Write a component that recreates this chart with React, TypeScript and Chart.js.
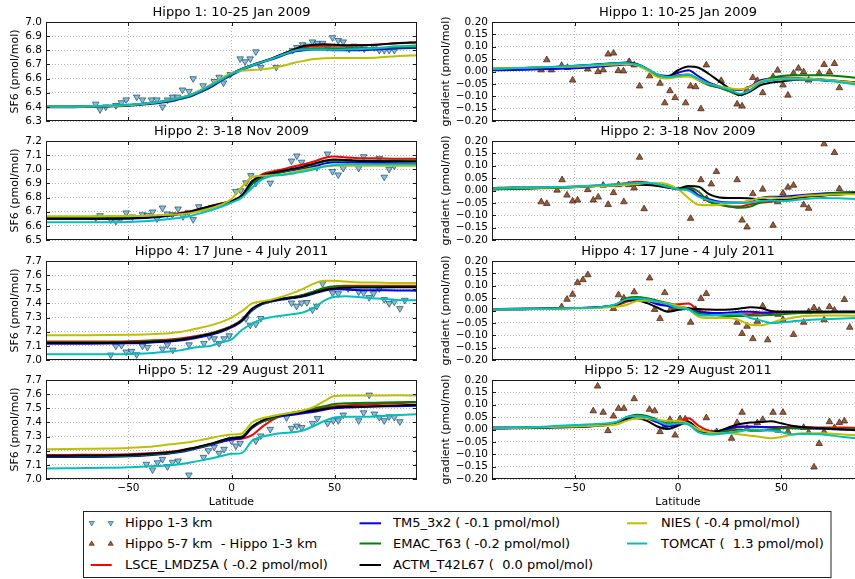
import { useEffect, useRef } from 'react';
import { Chart, registerables } from 'chart.js';

Chart.register(...registerables);
Chart.defaults.font.family = "'DejaVu Sans', sans-serif";
Chart.defaults.color = '#000';

// latitude grid the model curves are read on
const MODEL_LAT = [-90, -80, -70, -60, -50, -40, -30, -25, -20, -15, -10, -5, 0, 5, 10, 15, 20, 25, 30, 35, 40, 45, 50, 55, 60, 70, 80, 90];

// ---- Hippo 1 ----
const H1_LOW_LAT = [-65.9, -63.8, -61.0, -56.1, -53.4, -51.1, -46.0, -43.2, -38.8, -36.2, -33.5, -31.1, -28.6, -26.2, -23.8, -20.6, -18.6, -13.8, -8.4, -6.0, -3.9, -0.6, 4.2, 6.6, 9.1, 11.8, 14.2, 21.7, 29.6, 31.7, 34.5, 36.6, 39.3, 41.7, 44.2, 46.6, 49.0, 51.8, 54.2, 57.1, 59.5, 62.0, 64.4, 69.3, 71.7, 74.1, 76.5, 79.0];
const H1_LOW_SF6 = [6.42, 6.38, 6.40, 6.41, 6.43, 6.45, 6.47, 6.45, 6.45, 6.45, 6.40, 6.45, 6.47, 6.47, 6.52, 6.51, 6.60, 6.55, 6.58, 6.61, 6.57, 6.63, 6.74, 6.72, 6.74, 6.79, 6.68, 6.68, 6.80, 6.82, 6.84, 6.83, 6.86, 6.85, 6.85, 6.82, 6.89, 6.87, 6.86, 6.81, 6.83, 6.82, 6.81, 6.82, 6.80, 6.80, 6.80, 6.80];
const H1_DIFF_LAT = [-66.2, -63.5, -61.3, -56.3, -53.5, -51.0, -43.7, -38.7, -36.2, -33.8, -31.2, -28.9, -26.4, -23.6, -21.2, -18.6, -13.7, -8.7, -6.4, -3.9, -1.4, 3.7, 6.1, 8.5, 11.1, 13.7, 20.9, 28.6, 31.0, 33.4, 36.2, 38.4, 41.0, 46.0, 48.2, 50.8, 53.2, 55.9, 58.3, 60.8, 63.2, 68.3, 70.7, 73.3, 75.7, 78.1];
const H1_DIFF_VAL = [0.006, 0.047, 0.006, 0.024, 0.016, -0.035, 0.010, -0.001, 0.006, 0.070, 0.074, 0.003, 0.002, 0.040, 0.026, -0.059, -0.018, -0.048, -0.127, -0.078, -0.106, -0.127, -0.059, -0.062, -0.151, 0.026, -0.037, -0.132, -0.140, -0.075, -0.025, -0.037, -0.086, -0.021, 0.005, -0.055, -0.096, -0.007, 0.013, -0.002, -0.035, -0.007, 0.028, -0.002, 0.032, -0.066];
const H1_LSCE = [6.400, 6.400, 6.402, 6.405, 6.412, 6.425, 6.445, 6.462, 6.482, 6.515, 6.553, 6.595, 6.635, 6.668, 6.695, 6.720, 6.745, 6.775, 6.803, 6.822, 6.830, 6.832, 6.832, 6.832, 6.835, 6.840, 6.850, 6.855];
const H1_TM5 = [6.398, 6.398, 6.400, 6.403, 6.408, 6.420, 6.438, 6.455, 6.472, 6.505, 6.540, 6.585, 6.625, 6.660, 6.690, 6.715, 6.738, 6.765, 6.790, 6.800, 6.805, 6.805, 6.800, 6.800, 6.800, 6.805, 6.812, 6.817];
const H1_EMAC = [6.402, 6.402, 6.404, 6.407, 6.413, 6.425, 6.443, 6.460, 6.478, 6.510, 6.548, 6.590, 6.630, 6.665, 6.693, 6.718, 6.742, 6.770, 6.795, 6.810, 6.815, 6.815, 6.815, 6.815, 6.815, 6.815, 6.820, 6.822];
const H1_ACTM = [6.400, 6.400, 6.402, 6.405, 6.412, 6.425, 6.445, 6.462, 6.482, 6.515, 6.553, 6.595, 6.635, 6.668, 6.695, 6.720, 6.745, 6.775, 6.805, 6.830, 6.840, 6.842, 6.840, 6.835, 6.835, 6.840, 6.850, 6.857];
const H1_NIES = [6.400, 6.400, 6.402, 6.405, 6.412, 6.425, 6.447, 6.465, 6.485, 6.518, 6.558, 6.600, 6.640, 6.655, 6.660, 6.665, 6.675, 6.690, 6.710, 6.725, 6.738, 6.744, 6.746, 6.746, 6.745, 6.748, 6.758, 6.765];
const H1_TOMCAT = [6.403, 6.403, 6.405, 6.408, 6.415, 6.428, 6.447, 6.463, 6.482, 6.515, 6.552, 6.593, 6.633, 6.666, 6.694, 6.718, 6.742, 6.770, 6.795, 6.805, 6.805, 6.805, 6.803, 6.805, 6.808, 6.815, 6.828, 6.835];
const H1_GRAD_LSCE = [0.008, 0.010, 0.013, 0.016, 0.020, 0.026, 0.033, 0.034, 0.027, 0.008, -0.015, -0.022, -0.015, -0.012, -0.035, -0.055, -0.065, -0.080, -0.095, -0.078, -0.045, -0.035, -0.030, -0.030, -0.032, -0.035, -0.042, -0.050];
const H1_GRAD_TM5 = [0.005, 0.006, 0.008, 0.010, 0.013, 0.018, 0.025, 0.028, 0.025, 0.010, -0.012, -0.018, -0.005, 0.005, -0.020, -0.045, -0.060, -0.070, -0.075, -0.060, -0.035, -0.028, -0.025, -0.025, -0.028, -0.032, -0.040, -0.045];
const H1_GRAD_EMAC = [0.012, 0.013, 0.015, 0.018, 0.022, 0.027, 0.032, 0.033, 0.028, 0.010, -0.015, -0.022, -0.018, -0.015, -0.035, -0.055, -0.065, -0.080, -0.095, -0.075, -0.045, -0.025, -0.018, -0.015, -0.015, -0.015, -0.020, -0.030];
const H1_GRAD_ACTM = [0.010, 0.012, 0.015, 0.018, 0.022, 0.028, 0.034, 0.036, 0.030, 0.010, -0.018, -0.020, 0.005, 0.020, 0.015, -0.010, -0.040, -0.070, -0.095, -0.080, -0.055, -0.045, -0.040, -0.035, -0.032, -0.035, -0.040, -0.045];
const H1_GRAD_NIES = [0.012, 0.014, 0.016, 0.018, 0.020, 0.024, 0.028, 0.030, 0.025, 0.005, -0.022, -0.028, -0.022, -0.020, -0.035, -0.050, -0.060, -0.068, -0.072, -0.062, -0.040, -0.032, -0.028, -0.027, -0.028, -0.032, -0.040, -0.048];
const H1_GRAD_TOMCAT = [0.010, 0.013, 0.016, 0.019, 0.023, 0.028, 0.033, 0.034, 0.028, 0.012, -0.012, -0.022, -0.018, -0.012, -0.030, -0.050, -0.062, -0.075, -0.090, -0.075, -0.045, -0.035, -0.032, -0.032, -0.033, -0.035, -0.045, -0.058];

// ---- Hippo 2 ----
const H2_LOW_LAT = [-65.9, -63.8, -58.6, -56.1, -53.7, -51.1, -48.1, -43.2, -40.8, -38.3, -36.2, -33.5, -31.1, -28.6, -25.9, -23.5, -20.9, -18.6, -15.9, 2.1, 4.5, 7.0, 9.4, 11.8, 18.8, 29.1, 31.7, 34.0, 36.6, 41.4, 46.6, 49.0, 51.8, 54.2, 56.6, 61.7, 64.1, 71.7, 74.1, 76.5, 79.0];
const H2_LOW_SF6 = [6.657, 6.673, 6.643, 6.633, 6.650, 6.692, 6.664, 6.680, 6.675, 6.699, 6.650, 6.727, 6.685, 6.680, 6.720, 6.666, 6.696, 6.645, 6.736, 6.844, 6.849, 6.905, 6.956, 6.903, 6.903, 7.059, 7.095, 7.051, 7.020, 7.013, 7.109, 6.985, 6.961, 7.008, 7.059, 7.008, 7.090, 7.078, 6.945, 7.001, 7.024];
const H2_DIFF_LAT = [-66.2, -63.5, -58.5, -56.1, -53.7, -51.0, -48.6, -43.7, -41.0, -38.6, -36.2, -33.8, -31.2, -28.8, -26.2, -23.8, -21.2, -18.6, -16.4, 6.1, 11.1, 13.8, 16.1, 18.6, 28.6, 31.0, 33.4, 36.2, 41.0, 46.0, 48.2, 50.8, 53.2, 55.9, 60.8, 63.2, 70.7, 75.7, 78.1];
const H2_DIFF_VAL = [-0.046, -0.053, 0.001, 0.043, -0.019, -0.043, -0.039, 0.003, -0.039, -0.027, 0.021, -0.057, -0.009, 0.023, -0.046, 0.023, 0.010, 0.134, -0.074, -0.113, 0.043, -0.033, 0.026, 0.076, 0.043, -0.120, -0.148, -0.013, 0.005, -0.141, -0.046, -0.011, 0.013, 0.021, -0.058, -0.072, 0.188, 0.153, 0.007];
const H2_LSCE = [6.655, 6.655, 6.655, 6.656, 6.657, 6.663, 6.677, 6.690, 6.702, 6.722, 6.740, 6.758, 6.775, 6.815, 6.915, 6.965, 6.985, 7.000, 7.020, 7.035, 7.055, 7.080, 7.090, 7.085, 7.080, 7.078, 7.075, 7.075];
const H2_TM5 = [6.650, 6.650, 6.650, 6.651, 6.652, 6.658, 6.672, 6.683, 6.695, 6.715, 6.735, 6.752, 6.770, 6.805, 6.895, 6.945, 6.965, 6.980, 6.995, 7.005, 7.020, 7.040, 7.050, 7.050, 7.048, 7.045, 7.042, 7.040];
const H2_EMAC = [6.660, 6.660, 6.660, 6.660, 6.662, 6.665, 6.675, 6.685, 6.695, 6.715, 6.735, 6.752, 6.770, 6.805, 6.900, 6.950, 6.968, 6.985, 7.000, 7.015, 7.035, 7.055, 7.062, 7.062, 7.062, 7.062, 7.062, 7.062];
const H2_ACTM = [6.650, 6.650, 6.650, 6.651, 6.652, 6.660, 6.675, 6.688, 6.700, 6.722, 6.740, 6.758, 6.775, 6.815, 6.915, 6.958, 6.975, 6.990, 7.005, 7.020, 7.040, 7.060, 7.070, 7.065, 7.060, 7.058, 7.056, 7.055];
const H2_NIES = [6.668, 6.668, 6.668, 6.669, 6.670, 6.672, 6.678, 6.682, 6.690, 6.705, 6.725, 6.750, 6.790, 6.875, 6.945, 6.955, 6.958, 6.965, 6.980, 6.995, 7.010, 7.020, 7.025, 7.025, 7.025, 7.025, 7.025, 7.025];
const H2_TOMCAT = [6.625, 6.625, 6.625, 6.626, 6.628, 6.635, 6.648, 6.658, 6.670, 6.690, 6.710, 6.735, 6.765, 6.800, 6.870, 6.930, 6.955, 6.960, 6.970, 6.985, 7.000, 7.020, 7.030, 7.035, 7.035, 7.035, 7.035, 7.035];
const H2_GRAD_LSCE = [0.005, 0.008, 0.010, 0.012, 0.015, 0.020, 0.025, 0.030, 0.035, 0.032, 0.022, 0.012, 0.005, 0.010, -0.020, -0.045, -0.055, -0.065, -0.065, -0.055, -0.050, -0.045, -0.040, -0.035, -0.028, -0.020, -0.012, -0.008];
const H2_GRAD_TM5 = [0.005, 0.007, 0.009, 0.011, 0.014, 0.018, 0.022, 0.025, 0.027, 0.028, 0.025, 0.015, 0.005, 0.005, -0.020, -0.035, -0.045, -0.048, -0.048, -0.042, -0.030, -0.025, -0.025, -0.022, -0.018, -0.012, -0.008, -0.005];
const H2_GRAD_EMAC = [0.005, 0.006, 0.008, 0.010, 0.013, 0.018, 0.022, 0.025, 0.028, 0.030, 0.028, 0.018, 0.008, 0.012, -0.005, -0.045, -0.058, -0.065, -0.070, -0.065, -0.048, -0.040, -0.035, -0.030, -0.022, -0.015, -0.008, -0.003];
const H2_GRAD_ACTM = [0.010, 0.012, 0.012, 0.013, 0.015, 0.018, 0.020, 0.022, 0.023, 0.022, 0.018, 0.012, 0.008, 0.018, 0.015, -0.015, -0.028, -0.030, -0.030, -0.032, -0.035, -0.040, -0.038, -0.032, -0.025, -0.020, -0.015, -0.008];
const H2_GRAD_NIES = [0.008, 0.010, 0.011, 0.012, 0.014, 0.017, 0.020, 0.022, 0.025, 0.030, 0.030, 0.025, 0.005, -0.030, -0.058, -0.060, -0.058, -0.052, -0.048, -0.040, -0.030, -0.028, -0.030, -0.028, -0.022, -0.018, -0.015, -0.015];
const H2_GRAD_TOMCAT = [0.008, 0.010, 0.012, 0.014, 0.016, 0.020, 0.025, 0.028, 0.030, 0.030, 0.025, 0.015, 0.005, 0.000, -0.025, -0.040, -0.048, -0.050, -0.050, -0.048, -0.042, -0.040, -0.042, -0.040, -0.035, -0.030, -0.032, -0.035];

// ---- Hippo 4 ----
const H4_LOW_LAT = [-58.6, -56.1, -53.4, -51.1, -48.5, -46.0, -43.2, -40.8, -33.5, -31.1, -28.5, -20.6, -13.4, -10.8, -8.4, -6.0, -3.6, -1.1, 7.0, 9.1, 11.8, 14.2, 29.1, 31.6, 34.0, 36.6, 39.3, 41.4, 44.2, 49.0, 51.8, 56.6, 61.7, 64.1, 66.8, 68.9, 71.7, 74.1, 76.5, 79.0, 81.7, 84.1];
const H4_LOW_SF6 = [7.036, 7.099, 7.104, 7.057, 7.062, 7.038, 7.099, 7.090, 7.078, 7.108, 7.071, 7.108, 7.118, 7.165, 7.151, 7.118, 7.151, 7.172, 7.292, 7.247, 7.254, 7.294, 7.404, 7.381, 7.404, 7.407, 7.355, 7.381, 7.540, 7.475, 7.470, 7.505, 7.482, 7.475, 7.442, 7.470, 7.505, 7.428, 7.400, 7.411, 7.364, 7.423];
const H4_DIFF_LAT = [-56.3, -53.7, -51.0, -48.6, -46.0, -43.6, -31.2, -28.8, -26.2, -21.2, -13.7, -11.3, -8.7, -6.4, -3.7, -1.3, 6.1, 8.5, 11.1, 13.7, 28.6, 31.0, 33.4, 36.2, 38.4, 41.0, 43.4, 48.4, 50.8, 55.9, 60.8, 63.2, 65.8, 68.3, 70.7, 73.3, 75.7, 80.5, 83.1];
const H4_DIFF_VAL = [0.015, 0.045, 0.065, 0.113, 0.124, 0.144, 0.008, 0.063, 0.050, 0.075, 0.131, 0.004, -0.033, 0.072, 0.004, 0.011, -0.048, 0.004, 0.048, 0.068, -0.048, -0.093, -0.064, -0.114, -0.044, 0.018, -0.119, -0.016, -0.037, -0.097, -0.048, -0.005, 0.011, 0.000, -0.038, 0.015, 0.001, 0.044, -0.068];
const H4_LSCE = [7.130, 7.130, 7.130, 7.131, 7.133, 7.138, 7.145, 7.152, 7.162, 7.175, 7.190, 7.212, 7.240, 7.285, 7.362, 7.400, 7.420, 7.435, 7.445, 7.460, 7.480, 7.505, 7.520, 7.525, 7.525, 7.525, 7.525, 7.525];
const H4_TM5 = [7.115, 7.115, 7.115, 7.116, 7.118, 7.122, 7.130, 7.137, 7.148, 7.162, 7.178, 7.200, 7.230, 7.275, 7.350, 7.395, 7.415, 7.428, 7.438, 7.450, 7.470, 7.490, 7.500, 7.498, 7.495, 7.493, 7.492, 7.490];
const H4_EMAC = [7.125, 7.125, 7.125, 7.126, 7.128, 7.133, 7.140, 7.148, 7.158, 7.172, 7.188, 7.210, 7.238, 7.282, 7.358, 7.400, 7.420, 7.435, 7.445, 7.462, 7.485, 7.510, 7.520, 7.520, 7.520, 7.520, 7.520, 7.520];
const H4_ACTM = [7.120, 7.120, 7.120, 7.121, 7.123, 7.128, 7.136, 7.144, 7.155, 7.170, 7.186, 7.208, 7.236, 7.280, 7.362, 7.402, 7.420, 7.433, 7.442, 7.455, 7.475, 7.495, 7.505, 7.510, 7.512, 7.513, 7.514, 7.515];
const H4_NIES = [7.175, 7.175, 7.175, 7.176, 7.178, 7.182, 7.190, 7.198, 7.212, 7.228, 7.245, 7.268, 7.300, 7.345, 7.400, 7.415, 7.430, 7.450, 7.475, 7.505, 7.540, 7.560, 7.560, 7.555, 7.550, 7.548, 7.545, 7.545];
const H4_TOMCAT = [7.040, 7.040, 7.040, 7.041, 7.043, 7.048, 7.060, 7.068, 7.083, 7.093, 7.100, 7.125, 7.146, 7.212, 7.258, 7.290, 7.305, 7.315, 7.325, 7.338, 7.370, 7.420, 7.447, 7.450, 7.448, 7.435, 7.425, 7.422];
const H4_GRAD_LSCE = [0.003, 0.005, 0.006, 0.008, 0.010, 0.012, 0.020, 0.035, 0.045, 0.040, 0.030, 0.022, 0.025, 0.028, 0.000, -0.008, -0.012, -0.015, -0.015, -0.015, -0.012, -0.010, -0.008, -0.008, -0.008, -0.008, -0.005, -0.005];
const H4_GRAD_TM5 = [0.004, 0.005, 0.006, 0.008, 0.010, 0.012, 0.022, 0.042, 0.048, 0.040, 0.025, 0.018, 0.012, 0.010, -0.005, -0.010, -0.010, -0.008, -0.005, -0.005, -0.008, -0.008, -0.005, -0.005, -0.005, -0.005, -0.005, -0.005];
const H4_GRAD_EMAC = [0.004, 0.005, 0.006, 0.008, 0.010, 0.012, 0.025, 0.050, 0.055, 0.050, 0.040, 0.030, 0.018, 0.008, -0.012, -0.018, -0.020, -0.022, -0.022, -0.020, -0.020, -0.018, -0.015, -0.012, -0.010, -0.008, -0.008, -0.008];
const H4_GRAD_ACTM = [0.005, 0.007, 0.008, 0.009, 0.010, 0.012, 0.022, 0.040, 0.040, 0.030, 0.012, -0.005, 0.002, 0.008, 0.006, 0.004, 0.003, 0.004, 0.008, 0.013, 0.010, -0.002, -0.005, -0.005, -0.005, -0.005, -0.005, -0.005];
const H4_GRAD_NIES = [0.003, 0.005, 0.006, 0.007, 0.008, 0.010, 0.015, 0.022, 0.038, 0.040, 0.035, 0.028, 0.018, 0.005, -0.025, -0.030, -0.030, -0.030, -0.040, -0.058, -0.060, -0.050, -0.037, -0.030, -0.023, -0.020, -0.020, -0.022];
const H4_GRAD_TOMCAT = [0.005, 0.006, 0.007, 0.008, 0.010, 0.012, 0.025, 0.045, 0.048, 0.045, 0.035, 0.025, 0.010, 0.005, -0.018, -0.020, -0.018, -0.015, -0.015, -0.030, -0.040, -0.050, -0.048, -0.044, -0.040, -0.035, -0.032, -0.030];

// ---- Hippo 5 ----
const H5_LOW_LAT = [-41.3, -38.3, -35.9, -33.5, -31.1, -28.6, -25.9, -20.7, -13.6, -11.2, -8.4, -6.0, -3.6, 0.0, 2.1, 4.2, 11.8, 14.2, 18.8, 26.7, 29.1, 31.7, 34.1, 39.3, 41.7, 46.6, 49.4, 51.8, 54.2, 61.7, 64.1, 66.8, 69.3, 71.7, 74.1, 76.5, 79.0, 81.7];
const H5_LOW_SF6 = [7.105, 7.065, 7.116, 7.140, 7.088, 7.119, 7.128, 7.029, 7.154, 7.201, 7.225, 7.182, 7.211, 7.269, 7.234, 7.253, 7.269, 7.305, 7.352, 7.434, 7.359, 7.375, 7.364, 7.394, 7.429, 7.394, 7.413, 7.413, 7.453, 7.413, 7.469, 7.594, 7.460, 7.436, 7.413, 7.441, 7.436, 7.406];
const H5_DIFF_LAT = [-41.0, -38.9, -36.2, -33.9, -31.2, -28.8, -26.2, -21.2, -13.8, -11.3, -8.7, -6.4, -3.9, -1.4, 1.0, 3.5, 13.7, 18.7, 25.9, 28.6, 31.0, 33.4, 38.4, 41.0, 46.0, 48.4, 50.8, 53.2, 60.8, 63.2, 65.8, 68.3, 70.7, 73.3, 75.7, 78.1, 80.5];
const H5_DIFF_VAL = [0.075, 0.175, 0.069, -0.005, 0.054, 0.085, 0.085, 0.124, 0.081, 0.075, -0.009, 0.013, 0.040, -0.023, 0.043, 0.042, 0.047, -0.009, -0.036, 0.028, 0.069, 0.004, 0.027, 0.040, 0.069, -0.003, 0.069, -0.009, 0.008, -0.012, -0.152, -0.057, -0.009, 0.031, 0.007, 0.028, 0.034];
const H5_LSCE = [7.170, 7.170, 7.171, 7.172, 7.175, 7.182, 7.193, 7.202, 7.215, 7.230, 7.248, 7.265, 7.280, 7.285, 7.310, 7.370, 7.420, 7.450, 7.465, 7.480, 7.490, 7.505, 7.515, 7.520, 7.525, 7.530, 7.535, 7.545];
const H5_TM5 = [7.155, 7.155, 7.156, 7.157, 7.160, 7.168, 7.180, 7.190, 7.205, 7.222, 7.240, 7.262, 7.280, 7.290, 7.360, 7.405, 7.430, 7.445, 7.455, 7.465, 7.475, 7.490, 7.500, 7.505, 7.508, 7.512, 7.515, 7.518];
const H5_EMAC = [7.160, 7.160, 7.161, 7.162, 7.165, 7.173, 7.186, 7.196, 7.210, 7.228, 7.246, 7.270, 7.292, 7.300, 7.370, 7.405, 7.430, 7.455, 7.470, 7.485, 7.500, 7.515, 7.530, 7.535, 7.538, 7.540, 7.542, 7.545];
const H5_ACTM = [7.165, 7.165, 7.166, 7.167, 7.170, 7.178, 7.190, 7.200, 7.215, 7.232, 7.250, 7.272, 7.290, 7.295, 7.370, 7.415, 7.440, 7.455, 7.465, 7.475, 7.485, 7.495, 7.505, 7.510, 7.512, 7.515, 7.520, 7.525];
const H5_NIES = [7.210, 7.212, 7.214, 7.216, 7.220, 7.228, 7.245, 7.252, 7.262, 7.275, 7.290, 7.305, 7.314, 7.322, 7.400, 7.430, 7.445, 7.460, 7.470, 7.485, 7.510, 7.550, 7.587, 7.590, 7.590, 7.590, 7.592, 7.590];
const H5_TOMCAT = [7.075, 7.076, 7.077, 7.079, 7.083, 7.090, 7.098, 7.105, 7.117, 7.130, 7.145, 7.162, 7.178, 7.183, 7.270, 7.300, 7.315, 7.325, 7.330, 7.345, 7.375, 7.410, 7.435, 7.440, 7.440, 7.442, 7.452, 7.457];
const H5_GRAD_LSCE = [0.005, 0.006, 0.007, 0.009, 0.011, 0.015, 0.025, 0.045, 0.055, 0.045, 0.030, 0.020, 0.030, 0.045, 0.015, -0.005, -0.008, 0.000, 0.010, 0.010, 0.010, 0.010, 0.010, 0.010, 0.010, 0.008, 0.008, 0.005];
const H5_GRAD_TM5 = [0.004, 0.005, 0.006, 0.008, 0.010, 0.014, 0.025, 0.045, 0.055, 0.048, 0.030, 0.012, 0.020, 0.030, -0.005, -0.010, -0.008, 0.005, 0.012, 0.012, 0.010, 0.008, 0.008, 0.006, 0.005, 0.003, 0.000, 0.000];
const H5_GRAD_EMAC = [0.005, 0.006, 0.007, 0.009, 0.011, 0.015, 0.028, 0.050, 0.060, 0.055, 0.040, 0.025, 0.025, 0.025, -0.010, -0.012, -0.010, -0.005, 0.000, -0.005, -0.005, 0.000, 0.005, 0.005, 0.005, 0.005, 0.002, 0.000];
const H5_GRAD_ACTM = [0.008, 0.008, 0.009, 0.010, 0.012, 0.015, 0.025, 0.042, 0.045, 0.035, 0.012, 0.002, 0.015, 0.030, 0.000, -0.010, -0.005, 0.010, 0.022, 0.028, 0.030, 0.033, 0.025, 0.015, 0.010, 0.005, 0.000, -0.005];
const H5_GRAD_NIES = [0.005, 0.006, 0.008, 0.010, 0.012, 0.015, 0.020, 0.035, 0.045, 0.045, 0.038, 0.035, 0.035, 0.025, 0.000, -0.010, -0.015, -0.015, -0.020, -0.025, -0.030, -0.035, -0.030, -0.020, -0.015, -0.015, -0.020, -0.025];
const H5_GRAD_TOMCAT = [0.006, 0.008, 0.010, 0.014, 0.018, 0.022, 0.030, 0.050, 0.055, 0.050, 0.035, 0.020, 0.025, 0.020, -0.012, -0.020, -0.018, -0.012, -0.008, 0.000, -0.002, -0.005, -0.010, -0.020, -0.018, -0.020, -0.030, -0.038];

// model order: LSCE, TM5, EMAC, ACTM, NIES, TOMCAT
const MODEL_COLORS = ['#ff0000', '#0000ff', '#008000', '#000000', '#bfbf00', '#00bfbf'];
const MODEL_LABELS = [
  'LSCE_LMDZ5A ( -0.2 pmol/mol)',
  'TM5_3x2 ( -0.1 pmol/mol)',
  'EMAC_T63 ( -0.2 pmol/mol)',
  'ACTM_T42L67 (  0.0 pmol/mol)',
  'NIES ( -0.4 pmol/mol)',
  'TOMCAT (  1.3 pmol/mol)',
];
const LOW_FILL = '#80c2e0';
const LOW_EDGE = '#24445e';
const DIFF_FILL = '#9e5a38';
const DIFF_EDGE = '#3a1c0c';

const PLOT_TOPS = [22, 141, 261, 380];
const PLOT_H = 99;
const TITLE_H = 17;

interface PanelSpec {
  title: string;
  row: number;
  col: number;
  yMin: number;
  yMax: number;
  obsLat: number[];
  obsVal: number[];
  models: number[][];
}

const PANELS: PanelSpec[] = [
  { title: 'Hippo 1: 10-25 Jan 2009', row: 0, col: 0, yMin: 6.3, yMax: 7.0, obsLat: H1_LOW_LAT, obsVal: H1_LOW_SF6, models: [H1_LSCE, H1_TM5, H1_EMAC, H1_ACTM, H1_NIES, H1_TOMCAT] },
  { title: 'Hippo 1: 10-25 Jan 2009', row: 0, col: 1, yMin: -0.2, yMax: 0.2, obsLat: H1_DIFF_LAT, obsVal: H1_DIFF_VAL, models: [H1_GRAD_LSCE, H1_GRAD_TM5, H1_GRAD_EMAC, H1_GRAD_ACTM, H1_GRAD_NIES, H1_GRAD_TOMCAT] },
  { title: 'Hippo 2: 3-18 Nov 2009', row: 1, col: 0, yMin: 6.5, yMax: 7.2, obsLat: H2_LOW_LAT, obsVal: H2_LOW_SF6, models: [H2_LSCE, H2_TM5, H2_EMAC, H2_ACTM, H2_NIES, H2_TOMCAT] },
  { title: 'Hippo 2: 3-18 Nov 2009', row: 1, col: 1, yMin: -0.2, yMax: 0.2, obsLat: H2_DIFF_LAT, obsVal: H2_DIFF_VAL, models: [H2_GRAD_LSCE, H2_GRAD_TM5, H2_GRAD_EMAC, H2_GRAD_ACTM, H2_GRAD_NIES, H2_GRAD_TOMCAT] },
  { title: 'Hippo 4: 17 June - 4 July 2011', row: 2, col: 0, yMin: 7.0, yMax: 7.7, obsLat: H4_LOW_LAT, obsVal: H4_LOW_SF6, models: [H4_LSCE, H4_TM5, H4_EMAC, H4_ACTM, H4_NIES, H4_TOMCAT] },
  { title: 'Hippo 4: 17 June - 4 July 2011', row: 2, col: 1, yMin: -0.2, yMax: 0.2, obsLat: H4_DIFF_LAT, obsVal: H4_DIFF_VAL, models: [H4_GRAD_LSCE, H4_GRAD_TM5, H4_GRAD_EMAC, H4_GRAD_ACTM, H4_GRAD_NIES, H4_GRAD_TOMCAT] },
  { title: 'Hippo 5: 12 -29 August 2011', row: 3, col: 0, yMin: 7.0, yMax: 7.7, obsLat: H5_LOW_LAT, obsVal: H5_LOW_SF6, models: [H5_LSCE, H5_TM5, H5_EMAC, H5_ACTM, H5_NIES, H5_TOMCAT] },
  { title: 'Hippo 5: 12 -29 August 2011', row: 3, col: 1, yMin: -0.2, yMax: 0.2, obsLat: H5_DIFF_LAT, obsVal: H5_DIFF_VAL, models: [H5_GRAD_LSCE, H5_GRAD_TM5, H5_GRAD_EMAC, H5_GRAD_ACTM, H5_GRAD_NIES, H5_GRAD_TOMCAT] },
];

const minus = (s: string) => s.replace('-', '\u2212');

// matplotlib-style box with inward ticks on all four sides
const framePlugin = {
  id: 'frame',
  afterDatasetsDraw(chart: any) {
    const { ctx, chartArea } = chart;
    const { left, top, right, bottom } = chartArea;
    const xs = chart.scales.x;
    const ys = chart.scales.y;
    ctx.save();
    ctx.strokeStyle = '#1a1a1a';
    ctx.lineWidth = 1;
    ctx.beginPath();
    for (const t of xs.ticks) {
      const px = Math.round(xs.getPixelForValue(t.value)) + 0.5;
      ctx.moveTo(px, top);
      ctx.lineTo(px, top + 4);
      ctx.moveTo(px, bottom);
      ctx.lineTo(px, bottom - 4);
    }
    for (const t of ys.ticks) {
      const py = Math.round(ys.getPixelForValue(t.value)) + 0.5;
      ctx.moveTo(left, py);
      ctx.lineTo(left + 4, py);
      ctx.moveTo(right, py);
      ctx.lineTo(right - 4, py);
    }
    ctx.stroke();
    ctx.strokeRect(Math.round(left) + 0.5, Math.round(top) + 0.5, Math.round(right - left) - 1, Math.round(bottom - top) - 1);
    ctx.restore();
  },
};

function Panel({ spec }: { spec: PanelSpec }) {
  const canvasRef = useRef<HTMLCanvasElement>(null);
  const grad = spec.col === 1;
  const isBottom = spec.row === 3;
  const yAxisW = grad ? 62 : 46;
  const canvasLeft = grad ? 430 : 0;
  const canvasWidth = grad ? 440 : 430;
  const padRight = grad ? 6 : 13;
  const xAxisH = isBottom ? 30 : 0;
  const padBottom = isBottom ? 0 : 8;
  const height = TITLE_H + PLOT_H + xAxisH + padBottom;
  const top = PLOT_TOPS[spec.row] - TITLE_H;

  useEffect(() => {
    if (!canvasRef.current) return;

    const obs = {
      label: grad ? 'Hippo 5-7 km  - Hippo 1-3 km' : 'Hippo 1-3 km',
      data: spec.obsLat.map((x, i) => ({ x, y: spec.obsVal[i] })),
      showLine: false,
      pointStyle: 'triangle',
      rotation: grad ? 0 : 180,
      pointRadius: 3.8,
      backgroundColor: grad ? DIFF_FILL : LOW_FILL,
      borderColor: grad ? DIFF_EDGE : LOW_EDGE,
      borderWidth: 0.7,
      order: 10,
    };
    const lines = spec.models.map((vals, i) => ({
      label: MODEL_LABELS[i],
      data: MODEL_LAT.map((x, j) => ({ x, y: vals[j] })),
      showLine: true,
      borderColor: MODEL_COLORS[i],
      backgroundColor: MODEL_COLORS[i],
      borderWidth: 2,
      pointRadius: 0,
      cubicInterpolationMode: 'monotone',
      order: 9 - i,
    }));

    const chart = new Chart(canvasRef.current, {
      type: 'scatter',
      data: { datasets: [obs, ...lines] as any },
      plugins: [framePlugin],
      options: {
        animation: false,
        responsive: true,
        maintainAspectRatio: false,
        events: [],
        layout: { padding: { left: 0, right: padRight, top: 0, bottom: padBottom } },
        plugins: {
          legend: { display: false },
          tooltip: { enabled: false },
          title: {
            display: true,
            text: spec.title,
            fullSize: false,
            color: '#000',
            font: { size: 13, weight: 'normal', lineHeight: '16px' },
            padding: { top: 0, bottom: 1 },
          },
        },
        scales: {
          x: {
            type: 'linear',
            min: -90,
            max: 90,
            ticks: {
              stepSize: 50,
              includeBounds: false,
              display: isBottom,
              padding: 3,
              font: { size: 10.5 },
              callback: (v: any) => minus(String(v)),
            },
            grid: { color: '#b4b4b4', lineWidth: 1, drawTicks: false },
            border: { display: false, dash: [1, 2] },
            title: { display: isBottom, text: 'Latitude', font: { size: 11 }, padding: 0 },
            afterFit: (s: any) => {
              s.height = xAxisH;
              s.paddingLeft = 0;
              s.paddingRight = 0;
            },
          },
          y: {
            type: 'linear',
            min: spec.yMin,
            max: spec.yMax,
            ticks: {
              stepSize: grad ? 0.05 : 0.1,
              autoSkip: false,
              padding: 4,
              font: { size: 10.5 },
              callback: (v: any) => {
                const n = Math.abs(v) < 1e-9 ? 0 : Number(v);
                return minus(n.toFixed(grad ? 2 : 1));
              },
            },
            grid: { color: '#b4b4b4', lineWidth: 1, drawTicks: false },
            border: { display: false, dash: [1, 2] },
            title: {
              display: true,
              text: grad ? 'gradient (pmol/mol)' : 'SF6 (pmol/mol)',
              font: { size: 11 },
              padding: { top: grad ? 9.1 : 8.4, bottom: 0 },
            },
            afterFit: (s: any) => {
              s.width = yAxisW;
              s.paddingTop = 0;
              s.paddingBottom = 0;
            },
          },
        },
      } as any,
    });

    return () => {
      chart.destroy();
    };
  }, [spec]);

  return (
    <div style={{ position: 'absolute', left: canvasLeft, top, width: canvasWidth, height }}>
      <canvas ref={canvasRef} />
    </div>
  );
}

const LEGEND_ROWS = [523.3, 543.5, 565];

function Legend() {
  const textStyle = (x: number, y: number): React.CSSProperties => ({
    position: 'absolute',
    left: x,
    top: y - 8,
    height: 16,
    lineHeight: '16px',
    fontSize: 13,
    whiteSpace: 'pre',
    color: '#000',
  });
  const down = (cx: number, cy: number) => `${cx - 2.6},${cy - 1.8} ${cx + 2.6},${cy - 1.8} ${cx},${cy + 2.6}`;
  const up = (cx: number, cy: number) => `${cx - 2.6},${cy + 1.8} ${cx + 2.6},${cy + 1.8} ${cx},${cy - 2.6}`;
  const lineRows: { x1: number; x2: number; row: number; model: number }[] = [
    { x1: 90.7, x2: 111.7, row: 2, model: 0 },
    { x1: 359.5, x2: 381, row: 0, model: 1 },
    { x1: 359.5, x2: 381, row: 1, model: 2 },
    { x1: 359.5, x2: 381, row: 2, model: 3 },
    { x1: 627, x2: 647, row: 0, model: 4 },
    { x1: 627, x2: 647, row: 1, model: 5 },
  ];
  const textX = [125, 125, 125, 393, 393, 393, 661, 661];
  const textRow = [0, 1, 2, 0, 1, 2, 0, 1];
  const texts = ['Hippo 1-3 km', 'Hippo 5-7 km  - Hippo 1-3 km', ...MODEL_LABELS];

  return (
    <>
      <svg
        width={855}
        height={579}
        style={{ position: 'absolute', left: 0, top: 0, pointerEvents: 'none' }}
      >
        <rect x={83.5} y={511.5} width={747.5} height={66} fill="#fff" stroke="#222" strokeWidth={1} />
        <polygon points={down(91.7, LEGEND_ROWS[0])} fill={LOW_FILL} stroke={LOW_EDGE} strokeWidth={0.6} />
        <polygon points={down(110.7, LEGEND_ROWS[0])} fill={LOW_FILL} stroke={LOW_EDGE} strokeWidth={0.6} />
        <polygon points={up(91.7, LEGEND_ROWS[1])} fill={DIFF_FILL} stroke={DIFF_EDGE} strokeWidth={0.6} />
        <polygon points={up(110.7, LEGEND_ROWS[1])} fill={DIFF_FILL} stroke={DIFF_EDGE} strokeWidth={0.6} />
        {lineRows.map((l) => (
          <line
            key={l.model}
            x1={l.x1}
            x2={l.x2}
            y1={LEGEND_ROWS[l.row]}
            y2={LEGEND_ROWS[l.row]}
            stroke={MODEL_COLORS[l.model]}
            strokeWidth={2}
          />
        ))}
      </svg>
      {texts.map((t, i) => (
        <div key={t} style={textStyle(textX[i], LEGEND_ROWS[textRow[i]])}>
          {t}
        </div>
      ))}
    </>
  );
}

export default function App() {
  return (
    <div
      style={{
        position: 'absolute',
        left: 0,
        top: 0,
        width: 855,
        height: 579,
        overflow: 'hidden',
        background: '#fff',
        fontFamily: "'DejaVu Sans', sans-serif",
      }}
    >
      {PANELS.map((p) => (
        <Panel key={`${p.row}-${p.col}`} spec={p} />
      ))}
      <Legend />
    </div>
  );
}
